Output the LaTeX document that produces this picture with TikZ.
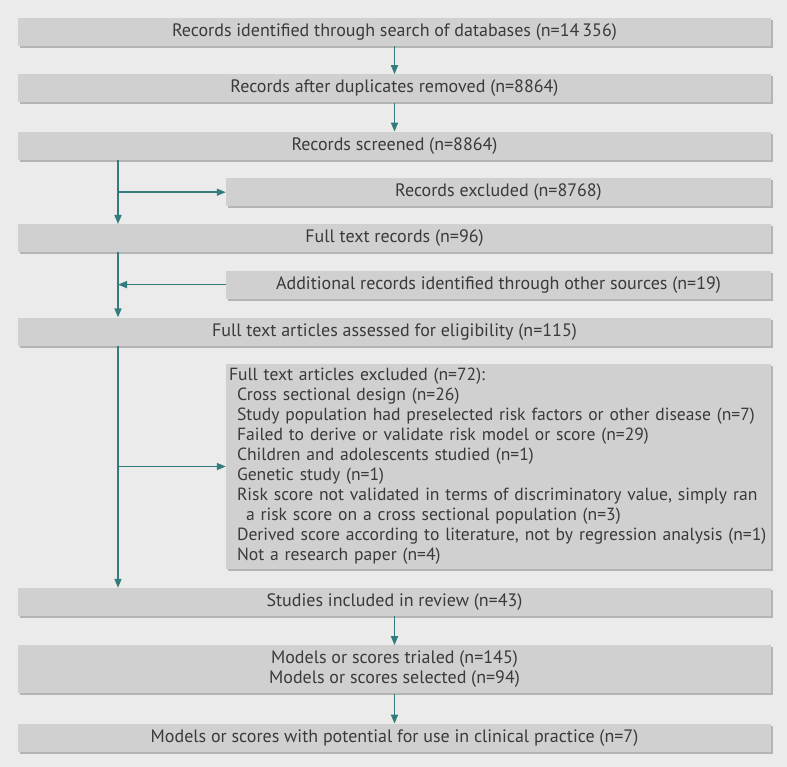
\documentclass[tikz,border=0pt]{standalone}
\usepackage{fontspec}
\setmainfont{PT Sans}
\usepackage{tikz}
\usetikzlibrary{arrows.meta,positioning,shadows,calc}
\definecolor{bggray}{RGB}{235,235,235}
\definecolor{boxgray}{RGB}{208,208,208}
\definecolor{shadegray}{RGB}{180,180,180}
\definecolor{inkgray}{RGB}{58,58,58}
\definecolor{flowteal}{RGB}{52,124,124}
\newcommand{\exitem}[2][8pt]{\hspace*{#1}\mbox{#2}}

\begin{document}
\begin{tikzpicture}[
  x=1pt, y=-1pt,
  font=\fontsize{18}{20}\selectfont,
  box/.style={fill=boxgray, text=inkgray, minimum height=28pt, inner sep=0pt, align=center,
    drop shadow={shadow xshift=2pt, shadow yshift=-2pt, fill=shadegray, opacity=1}},
  wide/.style={box, minimum width=753pt},
  side/.style={box, minimum width=545pt},
  arr/.style={-{Triangle[length=9pt,width=7pt]}, line width=1.6pt, draw=flowteal},
  node distance=28pt,
]
\fill[bggray] (0,0) rectangle (787,767);

\node[wide] (search) at (394.5,32) {Records identified through search of databases (n=14\,356)};
\node[wide, below=28pt of search] (dup) {Records after duplicates removed (n=8864)};
\node[wide, below=29pt of dup] (screen) {Records screened (n=8864)};
\node[side, below=18pt of screen.south east, anchor=north east] (recex) {Records excluded (n=8768)};
\node[wide, below=64pt of screen] (ftrec) {Full text records (n=96)};
\node[side, below=18pt of ftrec.south east, anchor=north east] (other) {Additional records identified through other sources (n=19)};
\node[wide, below=65pt of ftrec] (assess) {Full text articles assessed for eligibility (n=115)};
\node[side, below=18pt of assess.south east, anchor=north east, minimum height=205pt, align=left,
  text width=539pt, inner xsep=3pt, font=\fontsize{17.6}{20}\selectfont] (ftex) {%
\exitem[0pt]{Full text articles excluded (n=72):}\\
\exitem{Cross sectional design (n=26)}\\
\exitem{Study population had preselected risk factors or other disease (n=7)}\\
\exitem{Failed to derive or validate risk model or score (n=29)}\\
\exitem{Children and adolescents studied (n=1)}\\
\exitem{Genetic study (n=1)}\\
\exitem{Risk score not validated in terms of discriminatory value, simply ran}\\
\exitem[17pt]{a risk score on a cross sectional population (n=3)}\\
\exitem{Derived score according to literature, not by regression analysis (n=1)}\\
\exitem{Not a research paper (n=4)}};
\node[wide, below=242pt of assess] (incl) {Studies included in review (n=43)};
\node[wide, below=29pt of incl, minimum height=48pt] (models) {Models or scores trialed (n=145)\\Models or scores selected (n=94)};
\node[wide, below=30pt of models] (clinic) {Models or scores with potential for use in clinical practice (n=7)};

% left trunk
\coordinate (trunk) at (118,0);

\draw[arr] (search.south) -- (dup.north);
\draw[arr] (dup.south) -- (screen.north);
\draw[arr] (screen.south -| trunk) -- (ftrec.north -| trunk);
\draw[arr] (recex.west -| trunk) -- (recex.west);
\draw[arr] (ftrec.south -| trunk) -- (assess.north -| trunk);
\draw[arr] (other.west) -- (other.west -| trunk);
\draw[arr] (assess.south -| trunk) -- (incl.north -| trunk);
\draw[arr] (ftex.west -| trunk) -- (ftex.west);
\draw[arr] (incl.south) -- (models.north);
\draw[arr] (models.south) -- (clinic.north);
\end{tikzpicture}
\end{document}
